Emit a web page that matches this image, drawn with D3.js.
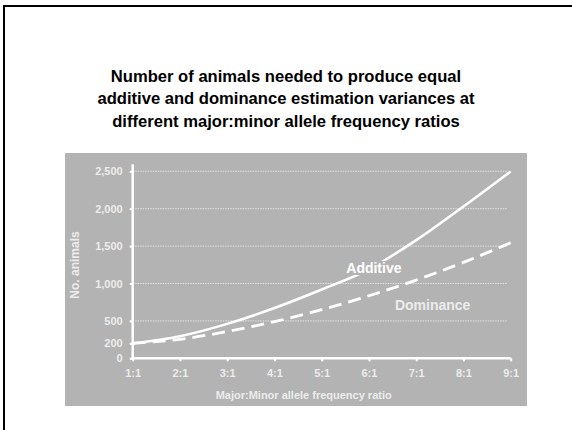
<!DOCTYPE html>
<html>
<head>
<meta charset="utf-8">
<script src="https://cdn.jsdelivr.net/npm/d3@7"></script>
<style>
  html, body { margin: 0; padding: 0; background: #ffffff; }
  svg { display: block; font-family: Arial, "Liberation Sans", sans-serif; }
</style>
</head>
<body>
<svg id="chart" width="572" height="430"></svg>
<script>
// ---- data ----
const ratios = [1, 2, 3, 4, 5, 6, 7, 8, 9];
const additive = [200, 295, 460, 672, 920, 1190, 1580, 2030, 2500];
const dominance = [200, 254, 358, 490, 650, 836, 1046, 1282, 1545];
const yTicks = [0, 200, 500, 1000, 1500, 2000, 2500];
const gridValues = [500, 1000, 1500, 2000, 2500];
const titleLines = [
  "Number of animals needed to produce equal",
  "additive and dominance estimation variances at",
  "different major:minor allele frequency ratios"
];
const seriesLabels = ["Additive", "Dominance"];
const xTitle = "Major:Minor allele frequency ratio";
const yTitle = "No. animals";

// ---- layout ----
const svg = d3.select("#chart");
const W = 572, H = 430;
const panel = { x: 65, y: 153, w: 462, h: 253 };
const panelFill = "#b3b3b3";
const x = d3.scaleLinear().domain([1, 9]).range([132.7, 510.7]);
const y = d3.scaleLinear().domain([0, 2500]).range([358.3, 171.3]);
const light = "#ececec";

// slide frame (top and left edges)
svg.append("line").attr("x1", 4).attr("x2", W).attr("y1", 6).attr("y2", 6)
  .attr("stroke", "#000").attr("stroke-width", 2);
svg.append("line").attr("x1", 4).attr("x2", 4).attr("y1", 5).attr("y2", H)
  .attr("stroke", "#000").attr("stroke-width", 2);

// title
svg.append("g").selectAll("text").data(titleLines).join("text")
  .attr("x", 286).attr("y", (d, i) => 81.5 + i * 22.5)
  .attr("text-anchor", "middle")
  .attr("font-size", 16.6).attr("font-weight", "bold").attr("fill", "#000")
  .text(d => d);

// gray panel
svg.append("rect").attr("x", panel.x).attr("y", panel.y)
  .attr("width", panel.w).attr("height", panel.h).attr("fill", panelFill);

// grid
svg.append("g").selectAll("line").data(gridValues).join("line")
  .attr("x1", x(1)).attr("x2", x(9) - 3)
  .attr("y1", d => y(d)).attr("y2", d => y(d))
  .attr("stroke", "#e2e2e2").attr("stroke-width", 1)
  .attr("stroke-dasharray", "1.5,1");

// axes
const yAxis = svg.append("g").attr("transform", `translate(${x(1)},0)`)
  .call(d3.axisLeft(y).tickValues(yTicks).tickFormat(d3.format(",")).tickSize(3).tickPadding(7));
const xAxis = svg.append("g").attr("transform", `translate(0,${y(0)})`)
  .call(d3.axisBottom(x).tickValues(ratios).tickFormat(d => d + ":1").tickSize(3).tickPadding(8));
[yAxis, xAxis].forEach(g => {
  g.select(".domain").remove();
  g.selectAll(".tick line").attr("stroke", "#ffffff").attr("stroke-width", 2);
  g.selectAll(".tick text").attr("fill", light).attr("font-size", 11)
    .attr("font-weight", "bold").attr("font-family", "Arial, 'Liberation Sans', sans-serif");
});
// axis lines
svg.append("line").attr("x1", x(1)).attr("x2", x(1))
  .attr("y1", y(0) + 1).attr("y2", y(2500) - 7)
  .attr("stroke", "#fff").attr("stroke-width", 2.5);
svg.append("line").attr("x1", x(1) - 1).attr("x2", x(9))
  .attr("y1", y(0)).attr("y2", y(0))
  .attr("stroke", "#fff").attr("stroke-width", 2.5);

// series
const line = d3.line().x(d => x(d[0])).y(d => y(d[1])).curve(d3.curveMonotoneX);
svg.append("path").datum(ratios.map((r, i) => [r, dominance[i]]))
  .attr("d", line).attr("fill", "none").attr("stroke", "#fff")
  .attr("stroke-width", 2.8).attr("stroke-dasharray", "13,7");
svg.append("path").datum(ratios.map((r, i) => [r, additive[i]]))
  .attr("d", line).attr("fill", "none").attr("stroke", "#fff")
  .attr("stroke-width", 2.5);

// series labels (Additive label has a panel-coloured box behind it)
const addG = svg.append("g");
const addBg = addG.append("rect").attr("fill", panelFill);
const addT = addG.append("text").attr("x", x(5.52)).attr("y", y(1140))
  .attr("font-size", 14).attr("font-weight", "bold").attr("fill", "#fff")
  .text(seriesLabels[0]);
const bb = addT.node().getBBox();
addBg.attr("x", bb.x - 2).attr("y", bb.y + 1).attr("width", bb.width + 4).attr("height", bb.height - 2);

svg.append("text").attr("x", x(6.55)).attr("y", y(645))
  .attr("font-size", 14).attr("font-weight", "bold").attr("fill", light)
  .text(seriesLabels[1]);

// axis titles
svg.append("text").attr("x", (x(1) + x(9)) / 2 - 18).attr("y", 399)
  .attr("text-anchor", "middle").attr("font-size", 11).attr("font-weight", "bold")
  .attr("fill", light).text(xTitle);
svg.append("text").attr("transform", "translate(79,265) rotate(-90)")
  .attr("text-anchor", "middle").attr("font-size", 12).attr("font-weight", "bold")
  .attr("fill", light).text(yTitle);
</script>
</body>
</html>
